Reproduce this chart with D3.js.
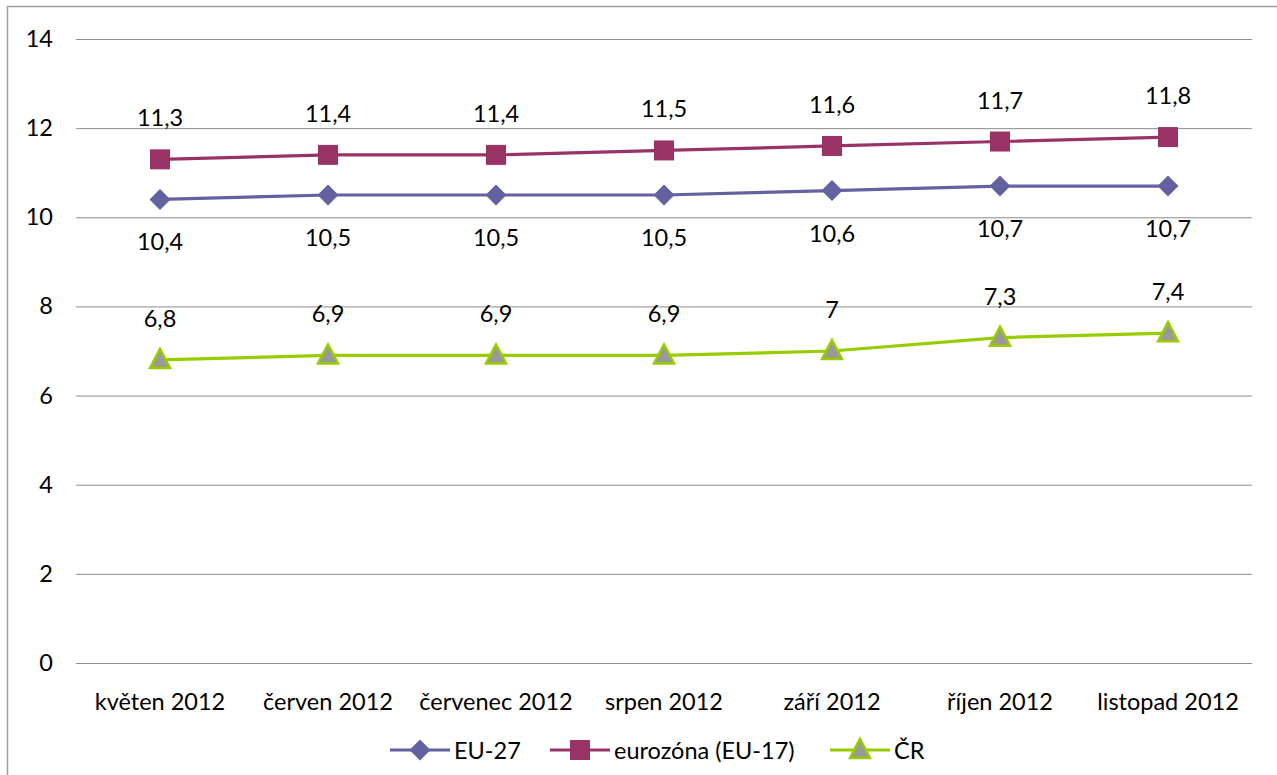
<!DOCTYPE html>
<html><head><meta charset="utf-8">
<script src="https://cdn.jsdelivr.net/npm/d3@7"></script>
<style>body{margin:0;background:#fff}svg{display:block}text{font-family:Lato,"Open Sans",sans-serif;fill:#000}</style>
</head><body>
<svg id="c" width="1277" height="775"></svg>
<script>
const categories = ["květen 2012","červen 2012","červenec 2012","srpen 2012","září 2012","říjen 2012","listopad 2012"];
const eu27 = [10.4,10.5,10.5,10.5,10.6,10.7,10.7];
const eurozona = [11.3,11.4,11.4,11.5,11.6,11.7,11.8];
const cr = [6.8,6.9,6.9,6.9,7.0,7.3,7.4];
const yTicks = [0,2,4,6,8,10,12,14];
const seriesNames = ["EU-27","eurozóna (EU-17)","ČR"];

const FS = "23.5px";
const svg = d3.select("#c");
svg.append("line").attr("x1",7.5).attr("x2",7.5).attr("y1",6).attr("y2",775).attr("stroke","#a0a0a0").attr("stroke-width",1.5);
svg.append("line").attr("x1",7).attr("x2",1277).attr("y1",6.5).attr("y2",6.5).attr("stroke","#a0a0a0").attr("stroke-width",1.5);

const x = d3.scaleBand().domain(categories).range([76,1252]);
const y = d3.scaleLinear().domain([0,14]).range([663,39]);
const fmt = v => String(v).replace(".",",");

const g = svg.append("g");
g.selectAll(".grid").data(yTicks).join("line")
  .attr("x1",76).attr("x2",1252).attr("y1",d=>y(d)+0.5).attr("y2",d=>y(d)+0.5)
  .attr("stroke","#8c8c8c").attr("stroke-width",1);

const yAxis = g.append("g").attr("transform","translate(76,0)")
  .call(d3.axisLeft(y).tickValues(yTicks).tickSize(0).tickPadding(23).tickFormat(d=>d));
yAxis.select(".domain").remove();
yAxis.selectAll("text").style("font-size",FS).attr("font-family","Lato");

const xAxis = g.append("g").attr("transform","translate(0,663)")
  .call(d3.axisBottom(x).tickSize(0).tickPadding(30));
xAxis.select(".domain").remove();
xAxis.selectAll("text").style("font-size",FS).attr("font-family","Lato");

const cx = d => x(d) + x.bandwidth()/2;
const line = d3.line().x((d,i)=>cx(categories[i])).y(d=>y(d));

const series = [
  {name:seriesNames[0], data:eu27, color:"#63619f", fill:"#63619f", marker:"diamond", label:"below"},
  {name:seriesNames[1], data:eurozona, color:"#993366", fill:"#993366", marker:"square", label:"above"},
  {name:seriesNames[2], data:cr, color:"#99cc00", fill:"#999999", marker:"triangle", label:"above"}
];

function marker(sel, s, px, py){
  if(s.marker==="diamond"){
    sel.append("path").attr("d",`M${px},${py-10.5}L${px+10.5},${py}L${px},${py+10.5}L${px-10.5},${py}Z`).attr("fill",s.fill);
  } else if(s.marker==="square"){
    sel.append("rect").attr("x",px-10).attr("y",py-10).attr("width",20).attr("height",20).attr("fill",s.fill);
  } else {
    sel.append("path").attr("d",`M${px},${py-11}L${px+10},${py+8}L${px-10},${py+8}Z`)
      .attr("fill",s.fill).attr("stroke",s.color).attr("stroke-width",2.5).attr("stroke-linejoin","miter");
  }
}

series.forEach(s=>{
  g.append("path").datum(s.data).attr("d",line).attr("fill","none").attr("stroke",s.color).attr("stroke-width",3.2);
  const mg = g.append("g");
  s.data.forEach((v,i)=>{
    const px = cx(categories[i]), py = y(v);
    marker(mg, s, px, py);
    mg.append("text").attr("x",px).attr("y", s.label==="above" ? py-33 : py+51)
      .attr("text-anchor","middle").style("font-size",FS).text(fmt(v));
  });
});

// legend
const leg = svg.append("g");
const legPos = [390, 550, 830];
series.forEach((s,i)=>{
  const lx = legPos[i], ly = 750;
  leg.append("line").attr("x1",lx).attr("x2",lx+60).attr("y1",ly).attr("y2",ly).attr("stroke",s.color).attr("stroke-width",3.2);
  marker(leg, s, lx+30, ly);
  leg.append("text").attr("x",lx+64).attr("y",ly+8.5).style("font-size",FS).text(s.name);
});
</script>
</body></html>
